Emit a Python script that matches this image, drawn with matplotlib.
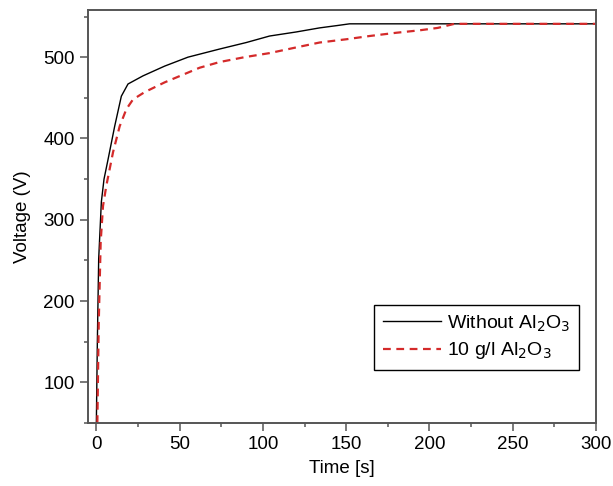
import matplotlib
matplotlib.use("Agg")
import matplotlib.pyplot as plt
from matplotlib.ticker import MultipleLocator

plt.rcParams['font.family'] = ['Liberation Sans', 'DejaVu Sans']

# Without Al2O3
t_plain = [0, 0.6, 1.4, 3, 4.6, 7, 11, 15, 19, 28, 41, 55, 74, 90, 104, 120,
           134, 145, 152, 200, 250, 300]
v_plain = [50, 150, 252, 322, 350, 374, 415, 452, 467, 477, 489, 500, 510, 518,
           526, 531, 536, 539, 541, 541, 541, 541]

# 10 g/l Al2O3
t_al = [0.6, 1.4, 2.6, 4, 6, 10, 14, 18, 22, 29, 41, 62, 74, 89, 104, 120, 134,
        150, 164, 180, 194, 205, 215, 250, 300]
v_al = [50, 170, 273, 317, 342, 383, 415, 436, 448, 457, 469, 487, 494, 500, 505,
        512, 518, 522, 526, 530, 533, 536, 541, 541, 541]

labels = ["Without Al$_2$O$_3$", "10 g/l Al$_2$O$_3$"]

fig = plt.figure(figsize=(6.13, 4.86), dpi=100)
ax = fig.add_axes([0.1436, 0.1296, 0.8287, 0.8498])

ax.plot(t_plain, v_plain, color='black', lw=1.0, label=labels[0])
ax.plot(t_al, v_al, color='#d42a2a', lw=1.6, ls=(0, (3.5, 2.5)), label=labels[1])

ax.set_xlim(-5, 300)
ax.set_ylim(50, 558)
ax.xaxis.set_major_locator(MultipleLocator(50))
ax.xaxis.set_minor_locator(MultipleLocator(25))
ax.yaxis.set_major_locator(MultipleLocator(100))
ax.yaxis.set_minor_locator(MultipleLocator(50))

for s in ax.spines.values():
    s.set_color('#555555')
    s.set_linewidth(1.4)
ax.tick_params(which='major', direction='out', length=5.5, width=1.1,
               color='#555555', labelsize=13.5, pad=4)
ax.tick_params(which='minor', direction='out', length=3, width=1.1, color='#555555')

ax.set_xlabel("Time [s]", fontsize=13.5, labelpad=5)
ax.set_ylabel("Voltage (V)", fontsize=13.5, labelpad=9)

leg = ax.legend(loc='lower right', bbox_to_anchor=(0.967, 0.128), borderaxespad=0,
                fontsize=14, fancybox=False, edgecolor='black', framealpha=1,
                handlelength=3.0, handletextpad=0.3, labelspacing=0.35,
                borderpad=0.45)
leg.get_frame().set_linewidth(1.0)

fig.savefig("out.png", dpi=100)
